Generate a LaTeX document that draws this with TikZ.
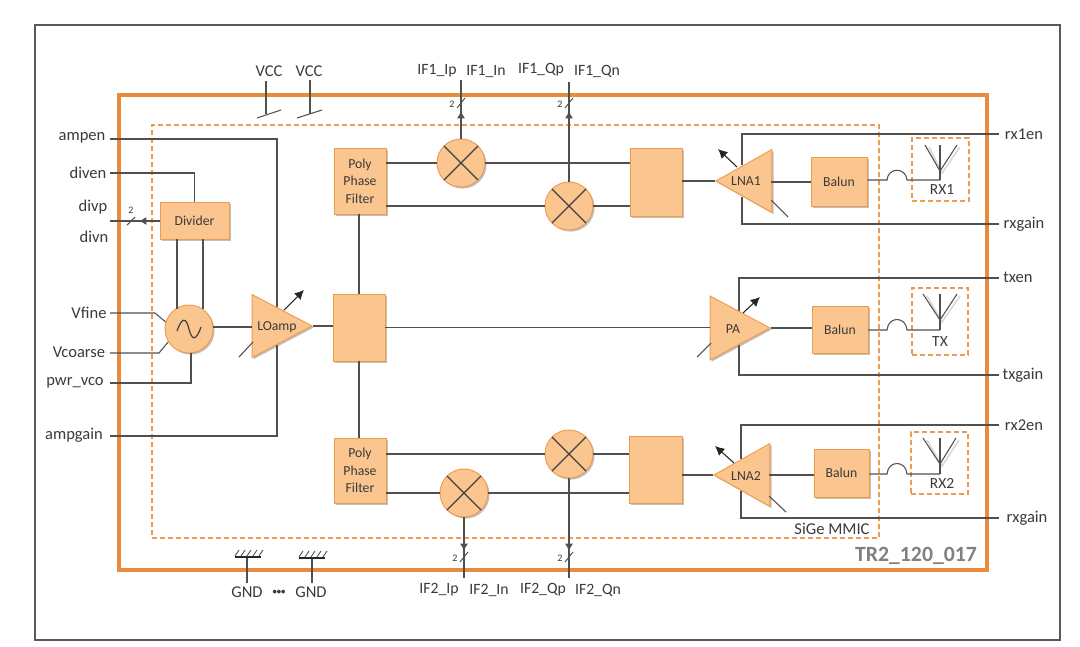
\documentclass[tikz,border=0pt]{standalone}
\usepackage{fontspec}
\setmainfont{Carlito}
\usetikzlibrary{shapes.geometric,shadows,arrows.meta}
\definecolor{orfill}{HTML}{FBC58F}
\definecolor{oredge}{HTML}{EE9B4E}
\definecolor{orthick}{HTML}{E98A3C}
\definecolor{wirec}{HTML}{505050}
\definecolor{txtc}{HTML}{3A3A3A}
\tikzset{
  softshadow/.style={drop shadow={shadow xshift=1.2pt,shadow yshift=-1.2pt,opacity=.35,fill=black!70}},
  block/.style={draw=oredge,fill=orfill,line width=.7pt,inner sep=0pt,align=center,softshadow,
     font=\fontsize{10.3pt}{13pt}\selectfont,text=txtc},
  mixer/.style={circle,draw=oredge,fill=orfill,line width=.7pt,minimum size=36pt,inner sep=0pt,softshadow},
  amp/.style={isosceles triangle,isosceles triangle apex angle=60,isosceles triangle stretches,
     draw=oredge,fill=orfill,line width=.7pt,inner sep=0pt,softshadow},
  wire/.style={draw=wirec,line width=.8pt},
  xmark/.style={draw=black!75,line width=1pt},
  ctrl/.style={draw=wirec,line width=.8pt},
  ctrlarrow/.style={draw=black!85,line width=.8pt,-{Latex[length=7pt,width=7pt]}},
  bus/.style={wire,-{Latex[length=5.5pt,width=6pt]}},
  pin/.style={text=txtc,font=\fontsize{12.4pt}{14pt}\selectfont,inner sep=0pt},
  ifpin/.style={pin,font=\fontsize{11.8pt}{14pt}\selectfont},
  tag/.style={text=txtc,font=\fontsize{10.3pt}{12pt}\selectfont,inner sep=0pt},
  num/.style={text=txtc,font=\fontsize{7.5pt}{9pt}\selectfont,inner sep=0pt},
  chip/.style={draw=oredge,dashed,dash pattern=on 4pt off 2pt,line width=1pt},
  ant/.style={draw=wirec,line width=.8pt},
}
\newcommand{\blk}[6]{\node[block,minimum width={(#4-#2)*.75pt},minimum height={(#5-#3)*.75pt}] (#1) at ({(#2+#4)/2},{(#3+#5)/2}) {#6};}
\newcommand{\mxr}[3]{\node[mixer] (#1) at (#2,#3) {};
  \draw[xmark] (#2-17,#3-17) -- (#2+17,#3+17) (#2-17,#3+17) -- (#2+17,#3-17);}
\begin{document}
\begin{tikzpicture}[x=.75pt,y=-.75pt]
\useasboundingbox (0,0) rectangle (1080,646);
\fill[white] (0,0) rectangle (1080,646);
% frames
\node[draw=black!65,line width=1pt,minimum width=768.75pt,minimum height=461.25pt,inner sep=0pt] (frame) at (547.5,332.5) {};
\node[draw=orthick,line width=3pt,minimum width=651pt,minimum height=356.25pt,inner sep=0pt] (pkg) at (553,332) {};
\node[chip,minimum width=545.25pt,minimum height=309.75pt,inner sep=0pt] (mmic) at (515.5,331.5) {};
\node[chip,minimum width=42.75pt,minimum height=47.25pt,inner sep=0pt] (rx1box) at (940.5,169.5) {};
\node[chip,minimum width=42pt,minimum height=50.25pt,inner sep=0pt] (txbox) at (940,321.5) {};
\node[chip,minimum width=42.75pt,minimum height=46.5pt,inner sep=0pt] (rx2box) at (939.5,463) {};
% pin coordinates
\foreach \n/\y in {ampen/139,diven/173,divout/221,vfine/313,vcoarse/353,pwr/383,ampgain/436}
  {\coordinate (p\n) at (110,\y);}
\foreach \n/\y in {rxa/134,rxb/224,txa/278,txb/375,rxc/425,rxd/518}
  {\coordinate (p\n) at (999,\y);}
\coordinate (loT) at (277,307); \coordinate (loB) at (277,345);
\coordinate (l1T) at (742,165); \coordinate (l1B) at (742,197);
\coordinate (paT) at (739,312); \coordinate (paB) at (739,344);
\coordinate (l2T) at (741,459); \coordinate (l2B) at (741,491);
\coordinate (vfa) at (155,313); \coordinate (vfb) at (167,323);
\coordinate (vca) at (159,353); \coordinate (vcb) at (169,341);
% control wires
\draw[wire] (pampen) -| (loT);
\draw[wire] (pampgain) -| (loB);
\draw[wire] (pvfine) -- (vfa) -- (vfb);
\draw[wire] (pvcoarse) -- (vca) -- (vcb);
\draw[wire] (prxa) -| (l1T);
\draw[wire] (prxb) -| (l1B);
\draw[wire] (ptxa) -| (paT);
\draw[wire] (ptxb) -| (paB);
\draw[wire] (prxc) -| (l2T);
\draw[wire] (prxd) -| (l2B);
% blocks
\blk{div}{160}{202}{229}{239}{Divider}
\blk{lo}{333}{294}{385}{361}{}
\blk{ppfa}{334}{148}{386}{214}{Poly\\Phase\\Filter}
\blk{ppfb}{334}{438}{386}{503}{Poly\\Phase\\Filter}
\blk{iqa}{630}{148}{682}{216}{}
\blk{iqb}{629}{436}{682}{503}{}
\blk{bala}{811}{157}{867}{206}{Balun}
\blk{balb}{812}{306}{868}{353}{Balun}
\blk{balc}{814}{449}{869}{497}{Balun}
\node[mixer] (vco) at (189,329) {};
\draw[xmark,line width=.9pt] (177,331) .. controls (182,317) and (186,317) .. (189,329) .. controls (192,341) and (196,341) .. (201,327);
\mxr{ma}{461}{163}
\mxr{mb}{569}{206}
\mxr{mc}{569}{454}
\mxr{md}{464}{493}
% amplifiers
\coordinate (lotip) at (313,326);
\node[amp,minimum width=47.25pt,minimum height=45pt,anchor=apex] (loamp) at (lotip) {};
\node[tag] (loamplab) at (277,327) {LOamp};
\coordinate (l1tip) at (715,181);
\coordinate (l1base) at (771,182);
\node[amp,shape border rotate=180,minimum width=47.25pt,minimum height=42pt,anchor=apex] (lnaa) at (l1tip) {};
\node[tag] (lnaalab) at (746,181) {LNA1};
\coordinate (patip) at (771,328);
\node[amp,minimum width=48pt,minimum height=45pt,anchor=apex] (pa) at (patip) {};
\node[tag] (palab) at (733,329) {PA};
\coordinate (l2tip) at (713,475);
\coordinate (l2base) at (769,475);
\node[amp,shape border rotate=180,minimum width=47.25pt,minimum height=42pt,anchor=apex] (lnab) at (l2tip) {};
\node[tag] (lnablab) at (746,476) {LNA2};
% signal wires
\draw[wire] (pdiven) -| (div.north);
\coordinate (da) at (177,239); \coordinate (db) at (203,239);
\coordinate (dav) at (177,309); \coordinate (dbv) at (203,309);
\draw[wire] (da) -- (dav);
\draw[wire] (db) -- (dbv);
\draw[wire] (ppwr) -| (vco.south -| 191,0);
\draw[wire] (vco.east |- 0,327) -- (loamp.west |- 0,327);
\draw[wire] (lotip) -- (lo.west |- lotip);
\draw[wire] (ppfa.south -| lo) -- (lo.north);
\draw[wire] (lo.south) -- (ppfb.north -| lo);
\draw[wire] (lo.east) -- (pa.west |- lo);
\draw[wire] (ppfa.east |- ma) -- (ma.west);
\draw[wire] (ma.east) -- (iqa.west |- ma);
\draw[wire] (ppfa.east |- mb) -- (mb.west);
\draw[wire] (mb.east) -- (iqa.west |- mb);
\draw[wire] (ppfb.east |- mc) -- (mc.west);
\draw[wire] (mc.east) -- (iqb.west |- mc);
\draw[wire] (ppfb.east |- md) -- (md.west);
\draw[wire] (md.east) -- (iqb.west |- md);
\draw[wire] (iqa.east |- l1tip) -- (l1tip);
\draw[wire] (iqb.east |- l2tip) -- (l2tip);
\draw[wire] (l1base) -- (bala.west |- l1base);
\draw[wire] (patip) -- (balb.west |- patip);
\draw[wire] (l2base) -- (balc.west |- l2base);
% divider output bus
\draw[wire] (div.west |- pdivout) -- (pdivout);
\draw[bus] (div.west |- pdivout) -- (139,221);
\draw[wire] (127,225) -- (135,217);
\node[num] (ndiv) at (131,210) {2};
% variable gain arrows
\coordinate (a1s) at (284,310); \coordinate (a1e) at (304,290);
\coordinate (a2s) at (239,357); \coordinate (a2e) at (253,342);
\draw[ctrlarrow] (a1s) -- (a1e); \draw[ctrl] (a2s) -- (a2e);
\coordinate (b1s) at (737,167); \coordinate (b1e) at (718,149);
\coordinate (b2s) at (771,200); \coordinate (b2e) at (788,217);
\draw[ctrlarrow] (b1s) -- (b1e); \draw[ctrl] (b2s) -- (b2e);
\coordinate (c1s) at (743,313); \coordinate (c1e) at (760,297);
\coordinate (c2s) at (697,357); \coordinate (c2e) at (711,343);
\draw[ctrlarrow] (c1s) -- (c1e); \draw[ctrl] (c2s) -- (c2e);
\coordinate (d1s) at (734,463); \coordinate (d1e) at (715,446);
\coordinate (d2s) at (769,496); \coordinate (d2e) at (786,512);
\draw[ctrlarrow] (d1s) -- (d1e); \draw[ctrl] (d2s) -- (d2e);
% IF buses
\coordinate (ifa) at (461,80); \coordinate (ifb) at (569,82);
\coordinate (ifc) at (464,578); \coordinate (ifd) at (569,578);
\draw[wire] (ma.north) -- (ifa);
\draw[bus] (ma.north) -- (461,111);
\draw[wire] (mb.north) -- (ifb);
\draw[bus] (mb.north) -- (569,111);
\draw[wire] (md.south) -- (ifc);
\draw[bus] (md.south) -- (464,551);
\draw[wire] (mc.south) -- (ifd);
\draw[bus] (mc.south) -- (569,551);
\foreach \x/\y/\nm in {461/103/na,569/103/nb,464/557/nc,569/557/nd}{
  \draw[wire,line width=.7pt] (\x-4,\y+5) -- (\x+4,\y-5);
  \node[num] (\nm) at (\x-9,\y+1) {2};
}
% antennas and hops
\foreach \nm/\bal/\ya/\yb/\yc/\xl/\xr in {A/bala/180/171/145/925/957,B/balb/330/320/294/923/957,C/balc/474/464/438/923/956}{
  \coordinate (ant\nm) at (940,\ya);
  \coordinate (hop\nm s) at (887,\ya);
  \coordinate (hop\nm e) at (907,\ya);
  \draw[black!15,line width=1.2pt] (\xl+4,\yc+2) -- (942,\yb+2) -- (\xr+3,\yc+2);
  \draw[wire] (\bal.east |- ant\nm) -- (hop\nm s) .. controls (888,\yb-4) and (906,\yb-4) .. (hop\nm e) -- (ant\nm);
  \draw[ant] (ant\nm) -- (940,\yc);
  \draw[ant] (\xl,\yc) -- (940,\yb) -- (\xr,\yc);
}
\node[pin,font=\fontsize{11.6pt}{13pt}\selectfont] (trx1) at (942,190) {RX1};
\node[pin,font=\fontsize{11.6pt}{13pt}\selectfont] (ttx) at (940,342) {TX};
\node[pin,font=\fontsize{11.6pt}{13pt}\selectfont] (trx2) at (942,483) {RX2};
% VCC
\coordinate (vaT) at (266,81); \coordinate (vaB) at (266,114);
\coordinate (vbT) at (310,80); \coordinate (vbB) at (310,114);
\draw[wire] (vaT) -- (vaB); \draw[wire] (vbT) -- (vbB);
\draw[wire] (257,118) -- (281,110); \draw[wire] (297,118) -- (322,110);
% GND
\coordinate (gaT) at (247,557); \coordinate (gaB) at (247,583);
\coordinate (gbT) at (312,557); \coordinate (gbB) at (312,583);
\draw[wire] (gaT) -- (gaB); \draw[wire] (gbT) -- (gbB);
\draw[draw=black!85,line width=1pt] (235,557) -- (261,557) (299,558) -- (325,558);
\foreach \x in {237,243,249,255,261}{\draw[wire,line width=.7pt] (\x-2,556) -- (\x+2,550);}
\foreach \x in {301,307,313,319,325}{\draw[wire,line width=.7pt] (\x-2,557) -- (\x+2,551);}
% labels
\node[pin] (lampen) at (82,138) {ampen};
\node[pin] (ldiven) at (88,173) {diven};
\node[pin] (ldivp) at (93,207) {divp};
\node[pin] (ldivn) at (94,237) {divn};
\node[pin] (lvfine) at (89,313) {Vfine};
\node[pin] (lvcoarse) at (79,352) {Vcoarse};
\node[pin] (lpwr) at (75,383) {pwr\_vco};
\node[pin] (lampgain) at (74,435) {ampgain};
\node[pin] (lrxa) at (1024,134) {rx1en};
\node[pin] (lrxb) at (1024,224) {rxgain};
\node[pin] (ltxa) at (1018,277) {txen};
\node[pin] (ltxb) at (1023,375) {txgain};
\node[pin] (lrxc) at (1024,425) {rx2en};
\node[pin] (lrxd) at (1027,518) {rxgain};
\node[pin] (lvcca) at (269,71) {VCC};
\node[pin] (lvccb) at (309,71) {VCC};
\node[pin] (lgnda) at (247,592) {GND};
\node[pin,font=\fontsize{6.5pt}{8pt}\selectfont\bfseries] (ldots) at (279,592) {•••};
\node[pin] (lgndb) at (311,592) {GND};
\node[ifpin] (la) at (437,71) {IF1\_Ip};
\node[ifpin] (lb) at (486,71) {IF1\_In};
\node[ifpin] (lc) at (541,70) {IF1\_Qp};
\node[ifpin] (ld) at (597,71) {IF1\_Qn};
\node[ifpin] (le) at (439,590) {IF2\_Ip};
\node[ifpin] (lf) at (489,590) {IF2\_In};
\node[ifpin] (lg) at (543,590) {IF2\_Qp};
\node[ifpin] (lh) at (598,590) {IF2\_Qn};
\node[pin] (lsige) at (832,529) {SiGe MMIC};
\node[inner sep=0pt,text=black!50,font=\fontsize{16.3pt}{18pt}\selectfont\bfseries] (ltr) at (916,556) {TR2\_120\_017};
\end{tikzpicture}
\end{document}
